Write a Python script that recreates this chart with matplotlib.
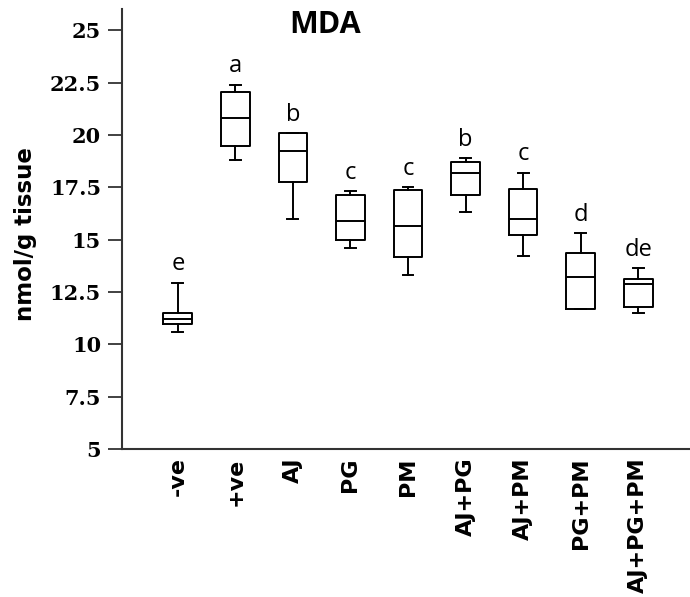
import matplotlib
matplotlib.use("Agg")
import matplotlib.pyplot as plt

groups = ["-ve", "+ve", "AJ", "PG", "PM", "AJ+PG", "AJ+PM", "PG+PM", "AJ+PG+PM"]
whis_lo = [10.6, 18.8, 16.0, 14.6, 13.3, 16.3, 14.2, 11.7, 11.5]
q1 = [10.95, 19.45, 17.75, 15.0, 14.15, 17.15, 15.2, 11.7, 11.8]
median = [11.2, 20.8, 19.25, 15.9, 15.65, 18.2, 16.0, 13.2, 12.9]
q3 = [11.5, 22.05, 20.1, 17.15, 17.35, 18.7, 17.4, 14.35, 13.1]
whis_hi = [12.95, 22.4, 20.1, 17.3, 17.5, 18.9, 18.2, 15.3, 13.65]
letters = ["e", "a", "b", "c", "c", "b", "c", "d", "de"]

stats = []
for i, g in enumerate(groups):
    stats.append({"label": g, "whislo": whis_lo[i], "q1": q1[i], "med": median[i],
                  "q3": q3[i], "whishi": whis_hi[i], "fliers": []})

fig = plt.figure(figsize=(6.9, 5.97), dpi=100)
ax = fig.add_axes([0.1768, 0.2479, 0.8232, 0.7365])

pos = list(range(1, len(groups) + 1))
ln = dict(color="black", linewidth=1.4)
ax.bxp(stats, positions=pos, widths=0.5, showfliers=False,
       boxprops=ln, whiskerprops=ln, capprops=ln,
       medianprops=dict(color="black", linewidth=1.4), capwidths=0.19)

for p, top, lab in zip(pos, whis_hi, letters):
    ax.text(p, top + 0.3, lab, ha="center", va="bottom",
            fontsize=17, family="Open Sans")

ax.set_xlim(0.03, 9.9)
ax.set_ylim(5, 26)
ax.set_yticks([5, 7.5, 10, 12.5, 15, 17.5, 20, 22.5, 25])
ax.set_yticklabels(["5", "7.5", "10", "12.5", "15", "17.5", "20", "22.5", "25"],
                   family="DejaVu Serif", fontweight="bold", fontsize=15)
ax.set_xticks(pos)
ax.set_xticklabels(groups, rotation=90, family="DejaVu Sans",
                   fontweight="bold", fontsize=16)
ax.tick_params(axis="x", length=0, pad=6)
ax.tick_params(axis="y", length=10, width=1.3, pad=5, color="#333333")

for s in ["top", "right"]:
    ax.spines[s].set_visible(False)
for s in ["left", "bottom"]:
    ax.spines[s].set_linewidth(1.5)
    ax.spines[s].set_color("#333333")

ax.set_ylabel("nmol/g tissue", family="DejaVu Sans", fontweight="bold",
              fontsize=16.5)
ax.yaxis.set_label_coords(-0.15, 0.489)
ax.text(3.55, 25.26, "MDA", ha="center", va="center", fontsize=22,
        fontweight="bold", family="Open Sans")

fig.savefig("out.png", dpi=100)
